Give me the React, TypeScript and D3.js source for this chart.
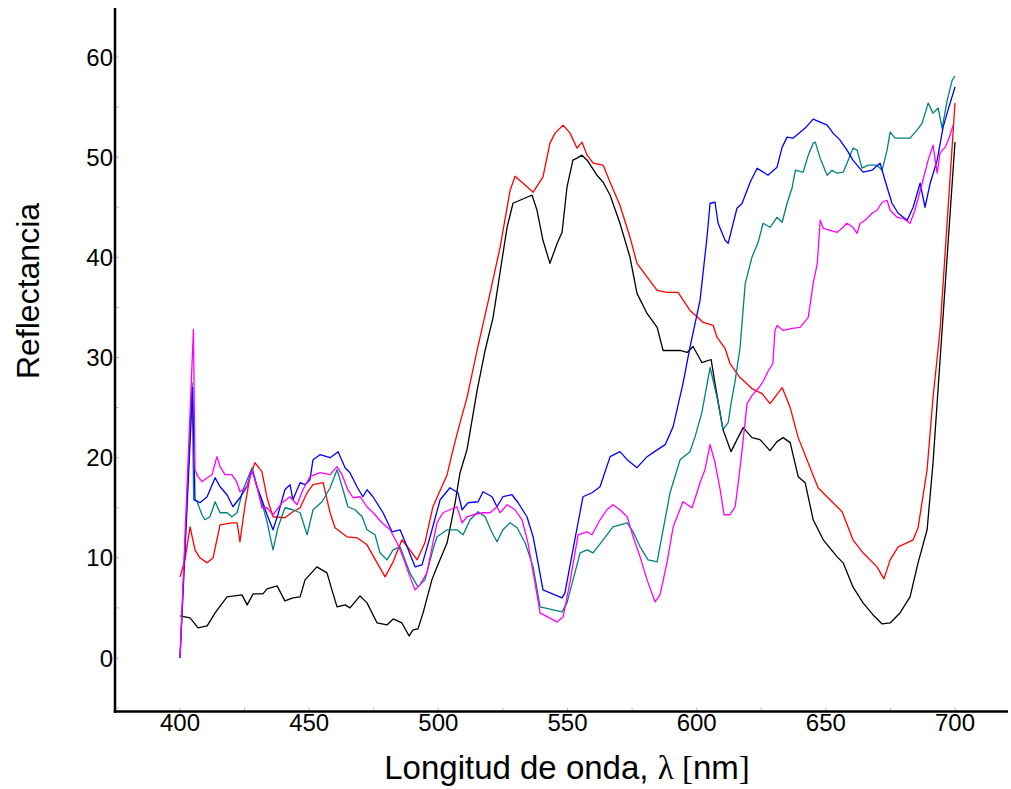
import React from "react";
import * as d3 from "d3";

// wavelength (nm), reflectance
const black: [number, number][] = [
  [400,4.2],[403.9,4.0],[407,3.0],[410.5,3.2],[413.6,4.5],[418.2,6.1],[424,6.3],[426,5.3],[428.3,6.4],[432.1,6.4],[433.7,6.9],[437.6,7.2],[440.6,5.7],[443.7,6.0],[446.5,6.1],[448.4,7.8],[453,9.1],[456.9,8.5],[458.8,6.8],[460.8,5.1],[463.9,5.3],[465.8,5.0],[469.7,6.2],[472.4,5.5],[476.3,3.5],[480.1,3.3],[482.5,3.9],[485.9,3.5],[488.7,2.2],[490.2,2.8],[492.1,2.9],[494.1,4.5],[497.5,7.8],[499.5,9.1],[503.4,11.5],[506.5,15.5],[508.4,18.5],[511.1,20.8],[515,26.7],[518.1,30.7],[521.2,34],[526.6,43],[528.9,45.4],[531.6,45.7],[534.3,46],[536.3,46.2],[538.2,44.7],[540.5,41.7],[543.2,39.4],[546,41.4],[547.9,42.5],[549.8,47],[552.1,49.7],[553.7,49.9],[555.6,50.2],[557.6,49.7],[561.4,48.2],[563.8,47.5],[566.5,46.2],[570.3,43.4],[574.2,40],[576.9,36.4],[580.8,34.4],[584.7,33],[587,30.7],[593.6,30.7],[596.3,30.5],[598.6,31.1],[602,29.5],[605.6,29.8],[607.1,27.4],[610.2,22.8],[613.3,20.6],[615.6,21.8],[618,23],[621.4,22],[624.5,21.8],[628.4,20.7],[631.1,21.6],[633.5,22],[636.2,21.5],[639.3,18.1],[642,17.5],[645.1,13.8],[649,11.8],[654.4,10.1],[656.7,9.5],[660.5,7.1],[664.4,5.5],[668.3,4.3],[671.8,3.4],[674.9,3.5],[678.7,4.5],[682.6,6.1],[685.7,9.5],[689.2,12.8],[691.5,19.5],[695,32.7],[700,51.5]
];

const red: [number, number][] = [
  [400,8.1],[401.9,9.8],[403.9,13.1],[405.8,10.8],[407.7,10],[410.5,9.5],[412.8,10],[415.5,13.3],[420.1,13.5],[422.1,13.5],[423.2,11.6],[425.2,15.3],[427.1,18.1],[429,19.5],[431.7,18.6],[433.7,16],[436,14.1],[440.6,14],[443.7,14.6],[446.5,15],[449.2,16.5],[451.5,17.3],[455.4,17.5],[458.1,14.5],[460,13],[464.6,12.1],[468.5,12],[472.4,11.3],[476.3,9.5],[479.4,8.1],[482.5,9.6],[485.9,11.8],[489,10.8],[491.8,9.8],[494.8,11.5],[497.9,15.1],[503.4,18.3],[505.7,20.8],[508.4,23.5],[511.1,26],[515,30.7],[520,36.4],[523.9,41],[527.8,46.7],[529.7,48.1],[532.8,47.4],[536.7,46.5],[540.5,48],[543.2,51.4],[545.2,52.4],[548.3,53.2],[551,52.4],[553.7,50.9],[555.6,51.5],[557.6,50.2],[559.9,49.4],[563.8,49.2],[566.5,47.5],[570.3,45.2],[574.2,42],[576.9,39.4],[581.2,37.9],[584.7,36.7],[588.5,36.5],[592.8,36.5],[597.4,34.7],[600.5,34],[602.5,33.5],[606.4,33.2],[607.9,32],[611,30.9],[612.9,29.4],[616.8,28],[621.4,26.9],[625.3,26.4],[628.4,25.4],[633.1,27],[636.2,25],[639.3,22],[642.7,19.8],[647,17],[651.6,15.8],[656.3,14.6],[660.5,11.8],[664.4,10.5],[669.8,9.1],[672.5,7.9],[674.9,9.8],[678,11.1],[683.8,11.8],[685.7,13],[689.2,18.8],[691.5,26],[694.2,32.7],[700,55.4]
];

const blue: [number, number][] = [
  [400,0],[404.9,27],[405.8,15.8],[407.7,15.5],[410.5,16.1],[413.6,18],[415.5,17.1],[418.2,16.3],[420.5,15.1],[423.2,16],[425.9,17.1],[427.9,18.8],[429.8,17.1],[431.7,15.8],[433.7,14.3],[436,12.8],[437.9,14.3],[440.6,16.8],[442.6,17.3],[443.7,15.8],[446.5,17.5],[448.4,17.3],[450.3,17.8],[451.5,19.8],[454.2,20.3],[458.1,20],[461.2,20.6],[463.9,19],[465.8,18.5],[468.5,17.1],[470.8,16.1],[472.4,16.8],[474.7,16.1],[478.6,14.5],[482.1,12.6],[485.2,12.8],[487.9,11.1],[491,9.1],[493.7,9.3],[496.8,12.1],[500.7,15.8],[504.5,17],[507.6,16.5],[509.2,14.8],[511.5,15.5],[515.4,15.6],[517.3,16.6],[520.8,16.1],[522.7,15.1],[525,16.1],[528.5,16.3],[530.9,15.5],[534.3,14.1],[536.7,12.1],[538.6,9.5],[540.5,6.8],[547.9,6.0],[549,6.5],[552.1,10.8],[556,16.1],[559.5,16.5],[562.6,17.1],[566.5,20.1],[570.3,20.6],[573.1,19.8],[576.9,19],[580.8,20.1],[583.1,20.5],[587.8,21.3],[590.9,23.1],[594.7,27.4],[597.4,31],[601.3,35.7],[604,42],[605.2,45.4],[607.1,45.5],[608.3,43.4],[611,41.7],[612.2,41.4],[615.6,44.9],[617.6,45.4],[620.7,47.5],[623.4,48.9],[627.6,48.2],[631.1,49],[633.1,51],[635,52],[637.3,51.9],[642,52.9],[645.1,53.8],[647.8,53.5],[650.5,53.2],[652.8,52.4],[655.5,51.7],[658.2,50.7],[660.5,49.7],[664.4,48.5],[667.9,48.7],[671,49.4],[672.9,47.7],[675.6,45.4],[678,44.4],[681.5,43.7],[683.8,45],[686.5,47.4],[688.4,45],[690.4,47.4],[693.1,49.7],[695.4,53],[697.3,54.7],[700,57]
];

const teal: [number, number][] = [
  [400,0],[404.7,27.5],[405.3,15.8],[406.6,15.6],[408.5,14.3],[409.7,13.8],[411.6,14.1],[413.6,15.6],[415.5,14.5],[418.2,14.5],[420.1,14.1],[422.1,14.5],[424.4,16.8],[427.9,19],[429.8,17.1],[431.7,15.5],[433.7,13.6],[436,10.8],[437.9,13],[440.6,15],[443.7,14.8],[446.5,14.5],[449.2,12.3],[451.5,14.8],[455,15.6],[458.1,17],[460.8,18.8],[463.1,16.8],[465,15.1],[467.8,14.8],[470.5,14.1],[472.4,12.8],[475.5,12.3],[477.4,10.5],[480.1,9.8],[482.5,10.8],[485.2,11.1],[489,8.5],[492.1,7.1],[494.8,7.8],[497.9,10.8],[499.5,12.1],[503.4,12.8],[507.2,12.8],[509.6,12.3],[512.3,13.8],[515.4,14.6],[518.1,14.1],[520.8,12.5],[522.7,11.6],[525,12.8],[527.8,13.5],[530.5,13],[533.6,11.5],[536.7,9.1],[539.4,5.1],[547.9,4.6],[549.8,5.5],[554.9,10.5],[557.6,10.8],[559.9,10.5],[563.8,11.8],[567.6,13.1],[573.1,13.5],[575.4,12.6],[578.1,11.1],[581.2,9.8],[584.7,9.6],[587,12.8],[589.7,16.5],[593.6,19.8],[597.4,20.6],[599.4,22.1],[602,24.5],[605.2,29],[607.9,26],[610.2,22.8],[612.2,23.5],[613.3,25.4],[614.9,27.7],[616.8,31],[618.8,37.4],[621.4,40],[623.8,41.5],[625.7,43.4],[628.4,43],[631.1,44],[633.1,43.5],[635,45.4],[637,47],[638.2,48.7],[641.2,48.5],[643.2,50.2],[645.1,51.4],[645.9,51.5],[647.8,49.9],[650.5,48.2],[652.4,48.7],[654.4,48.4],[656.7,48.5],[658.2,49.4],[660.5,50.9],[662.1,50.7],[664,48.9],[666.4,49.2],[669.8,49.2],[671.8,48.7],[673.7,50.7],[674.9,52.5],[676.8,51.9],[679.5,51.9],[682.6,51.9],[685.3,52.7],[687.3,53.4],[689.6,55.4],[691.5,54.4],[693.5,54.9],[695,52.9],[697,55.7],[698.9,57.7],[700,58.1]
];

const magenta: [number, number][] = [
  [400,0],[405.2,32.8],[405.8,18.8],[407,18.1],[408.5,17.6],[410.5,18],[412.4,18.3],[414.3,20.1],[415.5,19.1],[417.4,18.3],[420.1,18.3],[422.1,17.5],[423.2,16.6],[425.9,17.1],[427.9,18.8],[429.8,17.1],[431.7,15],[433.7,15],[436,14.3],[439.5,15.5],[442.6,16.1],[445.3,15.3],[447.6,16.8],[450.3,18.1],[454.2,18.5],[458.1,18.3],[460.8,19.1],[462.7,18.3],[465,16.8],[467,16],[469.7,16.1],[472.4,15.1],[475.5,14.3],[478.2,13.5],[481.3,12.8],[484,11.5],[486.3,10.1],[489,8.1],[491,6.8],[492.9,7.3],[495.6,8.5],[497.9,11.5],[499.5,13.5],[501.8,14.5],[504.5,14.8],[507.2,15.1],[509.2,13.5],[511.1,14.1],[513.4,14.3],[517.3,14.5],[520,14.5],[522.7,15.1],[523.9,14.5],[526.6,15.3],[529.7,14.8],[532.4,13.8],[534.7,11.5],[537.4,7.5],[539.4,4.5],[545.9,3.6],[548.3,4.1],[550.9,7.5],[554.1,12.3],[557.6,12.6],[559.5,12.3],[562.6,13.8],[565.3,14.8],[567.6,15.3],[570.3,14.8],[573.1,14.1],[575.4,12.1],[578.1,10.1],[580.8,7.8],[583.9,5.6],[585.8,6.3],[588.5,9.5],[590.9,13.1],[594.7,15.6],[598.2,15],[600.1,16.5],[601.3,17.5],[603.2,18.8],[605.2,21.3],[607.1,19.5],[609.1,16.8],[610.6,14.3],[612.9,14.3],[614.9,15.1],[616.4,18.1],[617.6,20.8],[619.5,25.4],[621.4,26.2],[624.1,27],[625.7,27.6],[627.6,28.6],[629.5,29.4],[630.3,32.7],[631.1,33.2],[633.5,32.7],[637,32.9],[640,33],[643.2,34],[645.1,37.4],[646.7,39.4],[647.8,43.7],[649,42.9],[651.6,42.7],[654.4,42.5],[656.7,43],[658.2,43.4],[660.5,43],[662.1,42.4],[663.3,43.4],[665.2,43.7],[667.9,44.4],[669.8,44.7],[671.8,45.5],[673.7,45.7],[674.9,44.7],[677.6,44],[679.9,43.9],[682.6,43.4],[684.5,44.7],[687.3,47.4],[689.6,49.7],[691.5,51.2],[693.1,48.4],[694.2,50.4],[696.2,51],[697.7,51.9],[699.3,53.2]
];

const xTickLabels = [400, 450, 500, 550, 600, 650, 700];
const yTickLabels = [0, 10, 20, 30, 40, 50, 60];
const xMinorTicks = d3.range(375, 726, 25);
const yMinorTicks = d3.range(-5, 65, 5);

const series = [
  { name: "black", data: black, color: "#000000" },
  { name: "red", data: red, color: "#ff0000" },
  { name: "teal", data: teal, color: "#008080" },
  { name: "blue", data: blue, color: "#0000ff" },
  { name: "magenta", data: magenta, color: "#ff00ff" },
];

export default function App() {
  const W = 1011, H = 789;
  const x = d3.scaleLinear().domain([400, 700]).range([180, 955]);
  const y = d3.scaleLinear().domain([0, 60]).range([658, 57]);
  const axisX = 115, axisY = 711.5;
  const line = d3.line<[number, number]>().x(d => x(d[0])).y(d => y(d[1]));
  const font = "'Liberation Sans', Arial, sans-serif";
  const serif = "'Liberation Serif', 'Times New Roman', serif";
  return (
    <svg width={W} height={H} style={{ position: "absolute", left: 0, top: 0 }} fontFamily={font}>
      <rect width={W} height={H} fill="#fff" />
      {xMinorTicks.map(t => (
        <line key={"xt" + t} x1={x(t)} x2={x(t)} y1={axisY} y2={axisY - 4} stroke="#bbb" strokeWidth={1} />
      ))}
      {yMinorTicks.map(t => (
        <line key={"yt" + t} x1={axisX} x2={axisX + 4} y1={y(t)} y2={y(t)} stroke="#bbb" strokeWidth={1} />
      ))}
      {series.map(s => (
        <path key={s.name} d={line(s.data) || ""} fill="none" stroke={s.color} strokeWidth={1.3} strokeLinejoin="round" />
      ))}
      <line x1={axisX} x2={axisX} y1={8} y2={axisY + 1.25} stroke="#000" strokeWidth={2.5} />
      <line x1={axisX - 1.25} x2={1008} y1={axisY} y2={axisY} stroke="#000" strokeWidth={2.5} />
      {xTickLabels.map(t => (
        <text key={"xl" + t} x={x(t)} y={731} textAnchor="middle" fontSize={24} fill="#000">{t}</text>
      ))}
      {yTickLabels.map(t => (
        <text key={"yl" + t} x={113} y={y(t) + 8.6} textAnchor="end" fontSize={24} fill="#000">{t}</text>
      ))}
      <text x={567} y={779} textAnchor="middle" fontSize={33} fill="#000">
        Longitud de onda, <tspan fontFamily={serif}>λ [</tspan>nm<tspan fontFamily={serif}>]</tspan>
      </text>
      <text transform={`translate(39,291) rotate(-90)`} textAnchor="middle" fontSize={32} fill="#000">Reflectancia</text>
    </svg>
  );
}
